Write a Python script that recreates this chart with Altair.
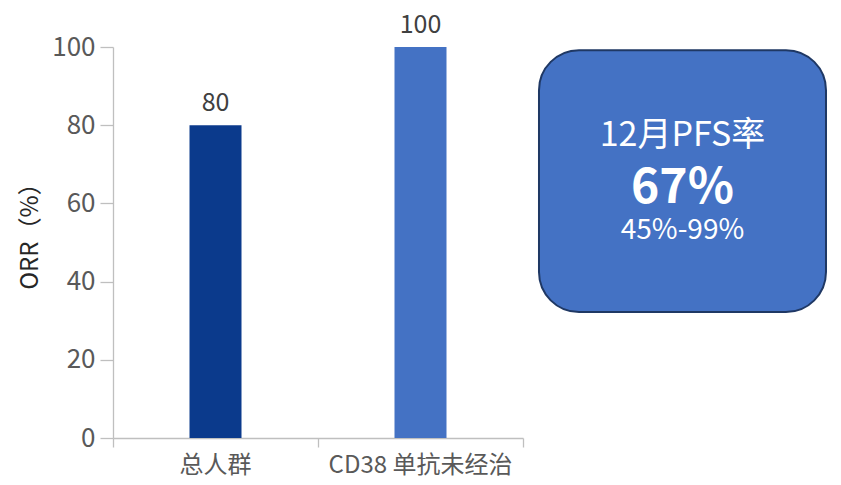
import altair as alt
import pandas as pd

# ---- data ----
categories = ["总人群", "CD38 单抗未经治"]
orr_values = [80, 100]
bar_colors = ["#0b3a8c", "#4472c4"]
x_slots = [0.5, 1.5]
x_ticks = [0, 1, 2]
y_ticks = [0, 20, 40, 60, 80, 100]
y_title = "ORR（%）"

box_title = "12月PFS率"
box_value = "67%"
box_range = "45%-99%"

# ---- annotation box placement (in data units) ----
BOX_X1, BOX_X2 = 2.078, 3.478
BOX_Y1, BOX_Y2 = 99.2, 32.2
BOX_CX = (BOX_X1 + BOX_X2) / 2

FONT = "Noto Sans CJK SC"
GRAY = "#595959"
AXIS = "#bfbfbf"

bars_df = pd.DataFrame({"cat": categories, "x": x_slots, "orr": orr_values, "color": bar_colors})

xscale = alt.Scale(domain=[0, 2], nice=False, zero=False, padding=0)
yscale = alt.Scale(domain=[0, 100], nice=False)

base = alt.Chart(bars_df)

bars = base.mark_bar(size=52).encode(
    x=alt.X("x:Q", scale=xscale,
            axis=alt.Axis(values=x_ticks, labels=False, title=None, grid=False,
                          tickSize=9, domainColor=AXIS, tickColor=AXIS, domainWidth=1.3, tickWidth=1.3)),
    y=alt.Y("orr:Q", scale=yscale,
            axis=alt.Axis(values=y_ticks, title=y_title, grid=False, tickSize=13,
                          domainColor=AXIS, tickColor=AXIS, domainWidth=1.3, tickWidth=1.3,
                          labelFont=FONT, labelFontSize=26, labelColor=GRAY, labelPadding=5,
                          titleFont=FONT, titleFontSize=24, titleFontWeight="normal", titleColor="#262626",
                          titleX=-83, titleY=183, titleAngle=-90, titleAlign="center", titleBaseline="middle")),
    color=alt.Color("color:N", scale=None),
)

value_labels = base.mark_text(font=FONT, fontSize=25, color="#404040", dy=-9, baseline="bottom").encode(
    x=alt.X("x:Q", scale=xscale), y=alt.Y("orr:Q", scale=yscale), text=alt.Text("orr:Q")
)

cat_labels = base.mark_text(font=FONT, fontSize=24, color=GRAY, dy=28, baseline="middle").encode(
    x=alt.X("x:Q", scale=xscale), y=alt.datum(0), text="cat:N"
)

box_df = pd.DataFrame({"x1": [BOX_X1], "x2": [BOX_X2], "y1": [BOX_Y1], "y2": [BOX_Y2]})
box = alt.Chart(box_df).mark_rect(cornerRadius=40, fill="#4472c4", stroke="#1f3864", strokeWidth=2).encode(
    x=alt.X("x1:Q", scale=xscale), x2="x2:Q", y=alt.Y("y1:Q", scale=yscale), y2="y2:Q"
)

def box_text(txt, yv, size, weight):
    d = pd.DataFrame({"t": [txt], "x": [BOX_CX], "y": [yv]})
    return alt.Chart(d).mark_text(font=FONT, fontSize=size, fontWeight=weight, color="white",
                                  baseline="middle", align="center").encode(
        x=alt.X("x:Q", scale=xscale), y=alt.Y("y:Q", scale=yscale), text="t:N")

t1 = box_text(box_title, 77.2, 34, "normal")
t2 = box_text(box_value, 63.7, 48, "bold")
t3 = box_text(box_range, 52.9, 28, "normal")

chart = alt.layer(bars, value_labels, cat_labels, box, t1, t2, t3).properties(
    width=410, height=391,
    autosize=alt.AutoSizeParams(type="none"),
    padding={"left": 105, "top": 39, "right": 310, "bottom": 39},
).configure(background="white", view=alt.ViewConfig(strokeWidth=0, stroke="transparent"))

chart.save("out.html", embed_options={"renderer": "svg", "actions": False})
